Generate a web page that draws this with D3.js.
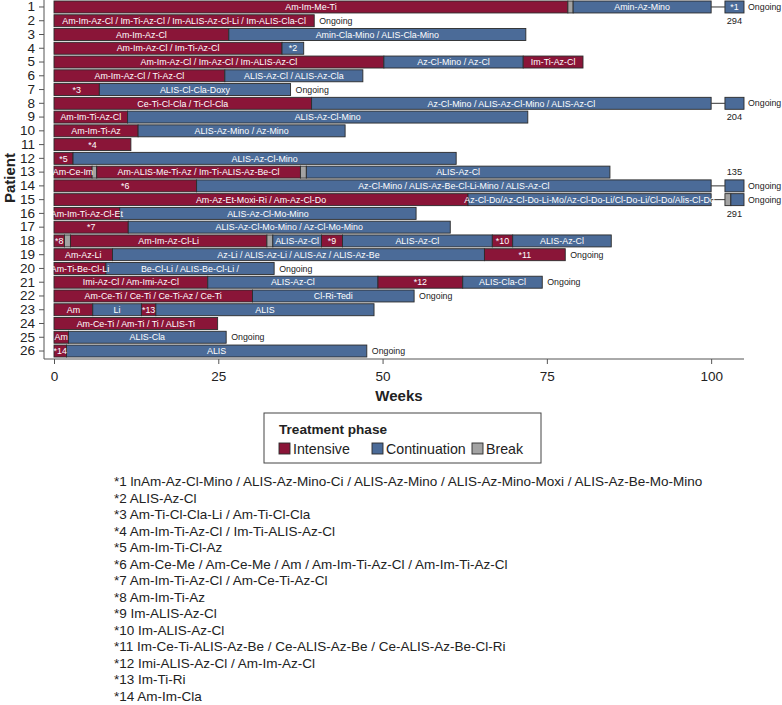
<!DOCTYPE html>
<html><head><meta charset="utf-8">
<script src="https://cdn.jsdelivr.net/npm/d3@7/dist/d3.min.js"></script>
<style>body{margin:0;background:#fff;} svg{display:block;font-family:"Liberation Sans",Arial,Helvetica,sans-serif;}</style>
</head><body>
<svg id="chart" width="782" height="705"></svg>
<script>
// ---- data ----
const patients = d3.range(1, 27);
const phases = ["Intensive", "Continuation", "Break"];
const phaseColors = ["#8a1538", "#4b6b98", "#a3a3a3"];
const xTicks = [0, 25, 50, 75, 100];
// segments: [patient, startWeek, endWeek, phaseIndex, label]
const segments = [
  [1, 0, 78.2, 0, "Am-Im-Me-Ti"], [1, 78.2, 79.0, 2, ""], [1, 79.0, 100, 1, "Amin-Az-Mino"],
  [2, 0, 39.6, 0, "Am-Im-Az-Cl / Im-Ti-Az-Cl / Im-ALIS-Az-Cl-Li / Im-ALIS-Cla-Cl"],
  [3, 0, 26.6, 0, "Am-Im-Az-Cl"], [3, 26.6, 71.8, 1, "Amin-Cla-Mino / ALIS-Cla-Mino"],
  [4, 0, 34.7, 0, "Am-Im-Az-Cl / Im-Ti-Az-Cl"], [4, 34.7, 38.0, 1, "*2"],
  [5, 0, 50.2, 0, "Am-Im-Az-Cl / Im-Az-Cl / Im-ALIS-Az-Cl"], [5, 50.2, 71.4, 1, "Az-Cl-Mino / Az-Cl"], [5, 71.4, 80.5, 0, "Im-Ti-Az-Cl"],
  [6, 0, 26.0, 0, "Am-Im-Az-Cl / Ti-Az-Cl"], [6, 26.0, 47.0, 1, "ALIS-Az-Cl / ALIS-Az-Cla"],
  [7, 0, 6.9, 0, "*3"], [7, 6.9, 36.0, 1, "ALIS-Cl-Cla-Doxy"],
  [8, 0, 39.2, 0, "Ce-Ti-Cl-Cla / Ti-Cl-Cla"], [8, 39.2, 100, 1, "Az-Cl-Mino / ALIS-Az-Cl-Mino / ALIS-Az-Cl"],
  [9, 0, 11.2, 0, "Am-Im-Ti-Az-Cl"], [9, 11.2, 72.1, 1, "ALIS-Az-Cl-Mino"],
  [10, 0, 12.8, 0, "Am-Im-Ti-Az"], [10, 12.8, 44.3, 1, "ALIS-Az-Mino / Az-Mino"],
  [11, 0, 11.7, 0, "*4"],
  [12, 0, 2.9, 0, "*5"], [12, 2.9, 61.2, 1, "ALIS-Az-Cl-Mino"],
  [13, 0, 5.8, 0, "Am-Ce-Im"], [13, 5.8, 6.5, 2, ""], [13, 6.5, 37.5, 0, "Am-ALIS-Me-Ti-Az / Im-Ti-ALIS-Az-Be-Cl"], [13, 37.5, 38.4, 2, ""], [13, 38.4, 84.6, 1, "ALIS-Az-Cl"],
  [14, 0, 21.7, 0, "*6"], [14, 21.7, 100, 1, "Az-Cl-Mino / ALIS-Az-Be-Cl-Li-Mino / ALIS-Az-Cl"],
  [15, 0, 63.0, 0, "Am-Az-Et-Moxi-Ri / Am-Az-Cl-Do"], [15, 63.0, 100, 1, "Az-Cl-Do/Az-Cl-Do-Li-Mo/Az-Cl-Do-Li/Cl-Do-Li/Cl-Do/Alis-Cl-Do"],
  [16, 0, 10.0, 0, "Am-Im-Ti-Az-Cl-Et"], [16, 10.0, 55.1, 1, "ALIS-Az-Cl-Mo-Mino"],
  [17, 0, 11.3, 0, "*7"], [17, 11.3, 60.3, 1, "ALIS-Az-Cl-Mo-Mino / Az-Cl-Mo-Mino"],
  [18, 0, 1.6, 0, "*8"], [18, 1.6, 2.5, 2, ""], [18, 2.5, 32.4, 0, "Am-Im-Az-Cl-Li"], [18, 32.4, 33.3, 2, ""], [18, 33.3, 40.7, 1, "ALIS-Az-Cl"], [18, 40.7, 43.9, 0, "*9"], [18, 43.9, 66.7, 1, "ALIS-Az-Cl"], [18, 66.7, 69.8, 0, "*10"], [18, 69.8, 84.8, 1, "ALIS-Az-Cl"],
  [19, 0, 8.9, 0, "Am-Az-Li"], [19, 8.9, 65.5, 1, "Az-Li / ALIS-Az-Li / ALIS-Az / ALIS-Az-Be"], [19, 65.5, 77.8, 0, "*11"],
  [20, 0, 7.9, 0, "Am-Ti-Be-Cl-Li"], [20, 7.9, 33.5, 1, "Be-Cl-Li / ALIS-Be-Cl-Li /"],
  [21, 0, 23.4, 0, "Imi-Az-Cl / Am-Imi-Az-Cl"], [21, 23.4, 49.3, 1, "ALIS-Az-Cl"], [21, 49.3, 62.2, 0, "*12"], [21, 62.2, 74.3, 1, "ALIS-Cla-Cl"],
  [22, 0, 30.2, 0, "Am-Ce-Ti / Ce-Ti / Ce-Ti-Az / Ce-Ti"], [22, 30.2, 54.8, 1, "Cl-Ri-Tedi"],
  [23, 0, 5.9, 0, "Am"], [23, 5.9, 13.3, 1, "Li"], [23, 13.3, 15.5, 0, "*13"], [23, 15.5, 48.7, 1, "ALIS"],
  [24, 0, 24.9, 0, "Am-Ce-Ti / Am-Ti / Ti / ALIS-Ti"],
  [25, 0, 2.2, 0, "Am"], [25, 2.2, 26.2, 1, "ALIS-Cla"],
  [26, 0, 1.9, 0, "*14"], [26, 1.9, 47.6, 1, "ALIS"]
];
// beyond axis break: [patient, startWeek, endWeek, phaseIndex, label]
const brokenSegments = [
  [1, 102.1, 105, 1, "*1"],
  [8, 102.1, 105, 1, ""],
  [14, 102.1, 105, 1, ""],
  [15, 102.1, 103.0, 2, ""], [15, 103.0, 105, 1, ""]
];
// total weeks for truncated bars: [patient, total, position (1 = below, -1 = above)]
const totals = [[1, "294", 1], [8, "204", 1], [14, "135", -1], [15, "291", 1]];
const ongoingPatients = [1, 2, 7, 8, 14, 15, 19, 20, 21, 22, 25, 26];
const footnotes = [
  "*1 lnAm-Az-Cl-Mino / ALIS-Az-Mino-Ci / ALIS-Az-Mino / ALIS-Az-Mino-Moxi / ALIS-Az-Be-Mo-Mino",
  "*2 ALIS-Az-Cl",
  "*3 Am-Ti-Cl-Cla-Li / Am-Ti-Cl-Cla",
  "*4 Am-Im-Ti-Az-Cl / Im-Ti-ALIS-Az-Cl",
  "*5 Am-Im-Ti-Cl-Az",
  "*6 Am-Ce-Me / Am-Ce-Me / Am / Am-Im-Ti-Az-Cl / Am-Im-Ti-Az-Cl",
  "*7 Am-Im-Ti-Az-Cl / Am-Ce-Ti-Az-Cl",
  "*8 Am-Im-Ti-Az",
  "*9 Im-ALIS-Az-Cl",
  "*10 Im-ALIS-Az-Cl",
  "*11 Im-Ce-Ti-ALIS-Az-Be / Ce-ALIS-Az-Be / Ce-ALIS-Az-Be-Cl-Ri",
  "*12 Imi-ALIS-Az-Cl / Am-Im-Az-Cl",
  "*13 Im-Ti-Ri",
  "*14 Am-Im-Cla"
];

// ---- drawing ----
const svg = d3.select("#chart");
const x = d3.scaleLinear().domain([0, 105]).range([54, 744]);
const y = d3.scaleBand().domain(patients).range([0.1, 357.9]).paddingInner(0.13).paddingOuter(0.065);
const axisColor = "#555";
const endOf = p => d3.max(segments.filter(s => s[0] === p), s => s[2]);

// axis lines
const axisY = 359;
const axisXLeft = 44;
svg.append("line").attr("x1", axisXLeft).attr("x2", x(105)).attr("y1", axisY).attr("y2", axisY).attr("stroke", axisColor);
svg.append("line").attr("x1", axisXLeft).attr("x2", axisXLeft).attr("y1", 0).attr("y2", axisY).attr("stroke", axisColor);

// x axis
const xAxis = d3.axisBottom(x).tickValues(xTicks).tickSize(5).tickPadding(7);
const gx = svg.append("g").attr("transform", `translate(0,${axisY})`).call(xAxis);
gx.select(".domain").remove();
gx.selectAll("line").attr("stroke", axisColor);
gx.selectAll("text").attr("font-size", 13.5).attr("fill", "#222");
svg.append("text").attr("x", x(52.5)).attr("y", 401).attr("text-anchor", "middle")
  .attr("font-size", 15).attr("font-weight", "bold").attr("fill", "#222").text("Weeks");

// y axis
const yAxis = d3.axisLeft(y).tickSize(5).tickPadding(4);
const gy = svg.append("g").attr("transform", `translate(${axisXLeft},0)`).call(yAxis);
gy.select(".domain").remove();
gy.selectAll("line").attr("stroke", axisColor);
gy.selectAll("text").attr("font-size", 13.5).attr("fill", "#222");
svg.append("text").attr("transform", `translate(15,${y(13) + y.bandwidth()})rotate(-90)`).attr("text-anchor", "middle")
  .attr("font-size", 15).attr("font-weight", "bold").attr("fill", "#222").text("Patient");

// connectors for axis-broken bars
const brokenPatients = Array.from(new Set(brokenSegments.map(s => s[0])));
svg.selectAll(".conn").data(brokenPatients).join("line")
  .attr("x1", x(100)).attr("x2", x(102.1))
  .attr("y1", p => y(p) + y.bandwidth() / 2).attr("y2", p => y(p) + y.bandwidth() / 2)
  .attr("stroke", "#333").attr("stroke-width", 1);

// bars
const allSegs = segments.concat(brokenSegments);
svg.selectAll(".seg").data(allSegs).join("rect")
  .attr("x", d => x(d[1])).attr("y", d => y(d[0]))
  .attr("width", d => x(d[2]) - x(d[1])).attr("height", y.bandwidth())
  .attr("fill", d => phaseColors[d[3]]).attr("stroke", "#2b2b2b").attr("stroke-width", 0.9);

// bar labels
svg.selectAll(".lab").data(allSegs.filter(d => d[4])).join("text")
  .attr("x", d => (x(d[1]) + x(d[2])) / 2).attr("y", d => y(d[0]) + y.bandwidth() / 2)
  .attr("dy", "0.36em").attr("text-anchor", "middle")
  .attr("font-size", 8.9).attr("fill", "#fff").text(d => d[4]);

// ongoing labels
svg.selectAll(".ong").data(ongoingPatients).join("text")
  .attr("x", p => brokenPatients.includes(p) ? x(105) + 4 : x(endOf(p)) + 5)
  .attr("y", p => y(p) + y.bandwidth() / 2).attr("dy", "0.36em")
  .attr("font-size", 8.8).attr("fill", "#222").text("Ongoing");

// totals
svg.selectAll(".tot").data(totals).join("text")
  .attr("x", x(103.55)).attr("y", d => y(d[0]) + y.bandwidth() / 2 + d[2] * y.step())
  .attr("dy", "0.36em").attr("text-anchor", "middle")
  .attr("font-size", 9.3).attr("fill", "#222").text(d => d[1]);

// legend
const lg = svg.append("g");
lg.append("rect").attr("x", 264).attr("y", 413).attr("width", 277).attr("height", 50)
  .attr("fill", "#fff").attr("stroke", "#444").attr("stroke-width", 1);
lg.append("text").attr("x", 279).attr("y", 434).attr("font-size", 13.6).attr("font-weight", "bold").attr("fill", "#222").text("Treatment phase");
const legX = [279, 372, 472];
phases.forEach((ph, i) => {
  lg.append("rect").attr("x", legX[i]).attr("y", 443).attr("width", 11).attr("height", 11)
    .attr("fill", phaseColors[i]).attr("stroke", "#2b2b2b").attr("stroke-width", 0.9);
  lg.append("text").attr("x", legX[i] + 14).attr("y", 453.5).attr("font-size", 14.2).attr("fill", "#222").text(ph);
});

// footnotes
svg.selectAll(".fn").data(footnotes).join("text")
  .attr("x", 114).attr("y", (d, i) => 486 + i * 16.5)
  .attr("font-size", 13.5).attr("fill", "#222").text(d => d);
</script>
</body></html>
